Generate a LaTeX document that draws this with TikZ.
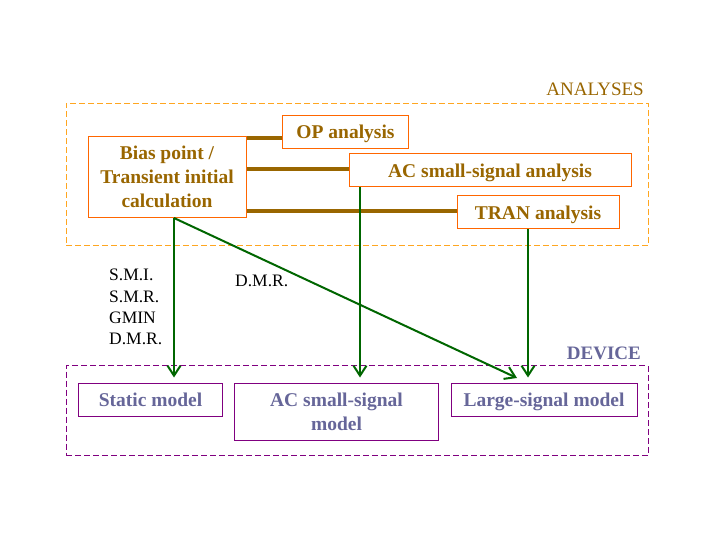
\documentclass[tikz,border=0pt]{standalone}
\usepackage{fontspec}
\setmainfont{Liberation Serif}
\usetikzlibrary{arrows.meta}
\definecolor{dashorange}{HTML}{FFA620}
\definecolor{boxorange}{HTML}{FF6600}
\definecolor{brownt}{HTML}{996600}
\definecolor{greenl}{HTML}{006600}
\definecolor{purpl}{HTML}{800080}
\definecolor{slatet}{HTML}{666699}
\tikzset{
  anabox/.style={draw=boxorange, line width=1pt, inner sep=0pt, align=center,
    text=brownt, font=\fontsize{19.5}{24}\selectfont\bfseries},
  devbox/.style={draw=purpl, line width=1pt, inner sep=0pt, align=center,
    text=slatet, font=\fontsize{19.5}{24}\selectfont\bfseries},
  oneline/.style={text height=16pt, text depth=2pt},
  group/.style={line width=1pt, dash pattern=on 6pt off 3pt},
  link/.style={draw=brownt, line width=4pt},
  flow/.style={draw=greenl, line width=2pt, -{Straight Barb[length=10pt,width=13pt]}},
  lab/.style={anchor=west, inner sep=0pt, font=\fontsize{17.5}{22}\selectfont},
}
\begin{document}
\begin{tikzpicture}[x=1pt,y=-1pt]
\useasboundingbox[fill=white] (0,0) rectangle (720,540);
% group frames
\node[group, draw=dashorange, minimum width=582pt, minimum height=142pt, inner sep=0pt] (anaframe) at (357,174.5) {};
\node[anchor=east, inner sep=0pt, text=brownt, font=\fontsize{19}{24}\selectfont] (analab) at (644,89) {ANALYSES};
\node[group, draw=purpl, minimum width=582pt, minimum height=90pt, inner sep=0pt] (devframe) at (357,410.5) {};
\node[anchor=east, inner sep=0pt, text=slatet, font=\fontsize{19}{24}\selectfont\bfseries] (devlab) at (641,353) {DEVICE};
% analysis boxes
\node[anabox, minimum width=158pt, minimum height=81pt] (bias) at (167,177) {Bias point /\\Transient initial\\calculation};
\node[anabox, oneline, minimum width=126pt, minimum height=33pt] (op) at (345.5,132) {OP analysis};
\node[anabox, oneline, minimum width=282pt, minimum height=33pt] (acan) at (490,170.5) {AC small-signal analysis};
\node[anabox, oneline, minimum width=162pt, minimum height=33pt] (tran) at (538,212.5) {TRAN analysis};
% device boxes
\node[devbox, oneline, minimum width=144pt, minimum height=33pt] (static) at (150.5,399.5) {Static model};
\node[devbox, minimum width=204pt, minimum height=57pt] (acm) at (336.5,411.5) {AC small-signal\\model};
\node[devbox, oneline, minimum width=186pt, minimum height=33pt] (large) at (544,399.5) {Large-signal model};
% brown links
\coordinate (yop) at (0,138);
\coordinate (yac) at (0,169);
\coordinate (ytr) at (0,211);
\draw[link] (bias.east |- yop) -- (op.west |- yop);
\draw[link] (bias.east |- yac) -- (acan.west |- yac);
\draw[link] (bias.east |- ytr) -- (tran.west |- ytr);
% green flows
\coordinate (xst) at (174,0);
\coordinate (xac) at (360,0);
\coordinate (xtr) at (528,0);
\coordinate (diagend) at (517,378);
\draw[flow] (bias.south -| xst) -- ([yshift=5pt]static.north -| xst);
\draw[flow] (acan.south -| xac) -- ([yshift=5pt]acm.north -| xac);
\draw[flow] (tran.south -| xtr) -- ([yshift=5pt]large.north -| xtr);
\draw[flow] (bias.south -| xst) -- (diagend);
% labels
\node[lab] (smi) at (109,275) {S.M.I.};
\node[lab] (smr) at (109,296.5) {S.M.R.};
\node[lab] (gmin) at (109,317.5) {GMIN};
\node[lab] (dmr1) at (109,338.5) {D.M.R.};
\node[lab] (dmr2) at (235,281) {D.M.R.};
\end{tikzpicture}
\end{document}
